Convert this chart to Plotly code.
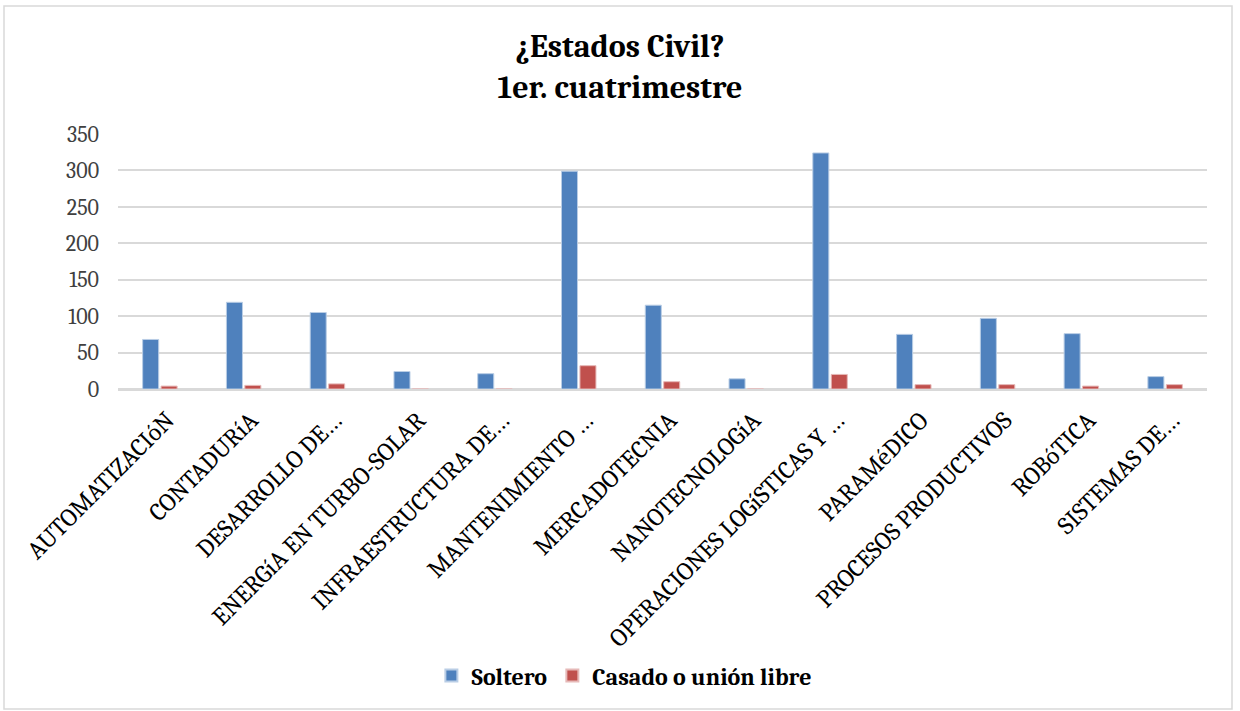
import plotly.graph_objects as go

categories = ["AUTOMATIZACIóN", "CONTADURíA", "DESARROLLO DE…", "ENERGíA EN TURBO-SOLAR",
              "INFRAESTRUCTURA DE…", "MANTENIMIENTO …", "MERCADOTECNIA", "NANOTECNOLOGíA",
              "OPERACIONES LOGíSTICAS Y …", "PARAMéDICO", "PROCESOS PRODUCTIVOS", "ROBóTICA",
              "SISTEMAS DE…"]
soltero = [68, 119, 105, 24, 21, 299, 115, 14, 324, 75, 97, 76, 17]
casado = [4, 5, 7, 0, 0, 32, 10, 0, 20, 6, 6, 4, 6]

serif = "Cambria, 'Liberation Serif', 'DejaVu Serif', serif"

fig = go.Figure()
fig.add_trace(go.Bar(name="Soltero", x=categories, y=soltero,
                     marker=dict(color="#4F81BD", line=dict(color="#B9CDE5", width=1))))
fig.add_trace(go.Bar(name="Casado o unión libre", x=categories, y=casado,
                     marker=dict(color="#C0504D", line=dict(color="#E6B9B8", width=1))))

fig.update_layout(
    width=1240, height=711,
    paper_bgcolor="white", plot_bgcolor="white",
    margin=dict(l=118, r=33, t=134, b=322),
    barmode="group", bargap=0.56, bargroupgap=0.13,
    title=dict(text="<b>¿Estados Civil?<br>1er. cuatrimestre</b>", x=0.5, xanchor="center",
               y=0.92, yanchor="top",
               font=dict(family=serif, size=32, color="black")),
    legend=dict(orientation="h", x=0.465, xanchor="center", y=-1.125, yanchor="middle",
                font=dict(family=serif, size=24, color="black", weight="bold"),
                itemsizing="constant", traceorder="normal"),
    showlegend=True,
    font=dict(family=serif, color="#404040"),
)
fig.update_yaxes(range=[0, 350], dtick=50, showgrid=True, gridcolor="#D9D9D9", gridwidth=1.5,
                 zeroline=True, zerolinecolor="#D9D9D9", zerolinewidth=1.5,
                 tickfont=dict(family=serif, size=22, color="#404040"), ticks="",
                 ticklabelstandoff=18, showline=False)
fig.update_xaxes(tickangle=-45, tickfont=dict(family=serif, size=25, color="black"),
                 showline=True, linecolor="#D9D9D9", linewidth=1.5, ticks="",
                 ticklabelshift=7, ticklabelstandoff=5)
fig.add_shape(type="rect", xref="paper", yref="paper",
              x0=-114/1089, x1=(1232-118)/1089, y0=-(709-389)/255, y1=(389-6)/255,
              line=dict(color="#D9D9D9", width=1.5), fillcolor="rgba(0,0,0,0)", layer="below")

fig.write_html("out.html", config={"displayModeBar": False},
               post_script="document.body.style.margin='0';")
